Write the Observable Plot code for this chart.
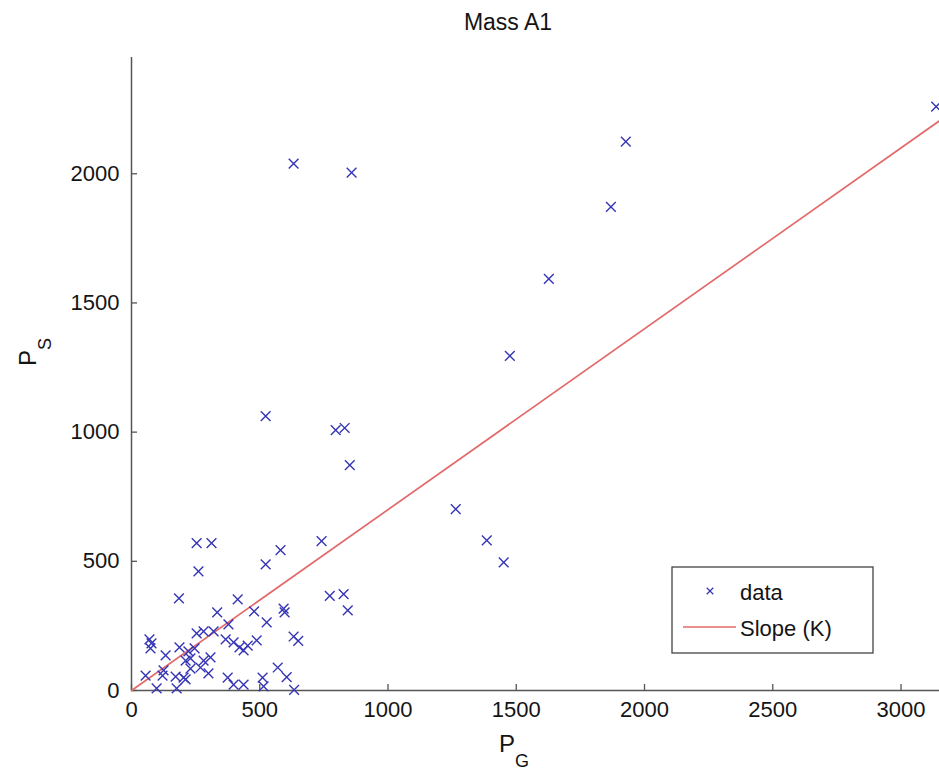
<!DOCTYPE html>
<html>
<head>
<meta charset="utf-8">
<script src="https://cdn.jsdelivr.net/npm/d3@7"></script>
<script src="https://cdn.jsdelivr.net/npm/@observablehq/plot@0.6"></script>
<style>
  html, body { margin: 0; padding: 0; background: white; }
  #chart { width: 939px; height: 777px; }
</style>
</head>
<body>
<div id="chart"></div>
<script>
// ---- data ----
const title = "Mass A1";
const pg = [3137, 1927, 1869, 1627, 1475, 1264, 1385, 1451, 632, 858, 523, 796, 831, 851, 741, 773, 827, 843, 581, 523,
  254, 312, 261, 185, 414, 334, 478, 593, 597, 527, 378, 70, 78, 74, 254, 281, 320, 367, 398, 421,
  453, 488, 437, 187, 133, 222, 246, 211, 230, 281, 308, 269, 230, 300, 125, 121, 55, 172, 203, 211,
  632, 650, 570, 605, 375, 398, 437, 511, 515, 98, 176, 634];
const ps = [2260, 2124, 1872, 1593, 1295, 702, 581, 496, 2039, 2004, 1062, 1008, 1016, 872, 578, 366, 373, 310, 543, 488,
  570, 570, 461, 357, 353, 302, 306, 317, 302, 264, 256, 198, 182, 163, 221, 229, 229, 198, 186, 167,
  174, 194, 155, 167, 136, 151, 163, 116, 124, 116, 128, 89, 85, 66, 78, 58, 58, 54, 50, 43,
  209, 192, 89, 52, 50, 23, 23, 50, 16, 8, 8, 2];
const slopeK = 0.70;
const slopeX = [0, 3150];
const xTicks = [0, 500, 1000, 1500, 2000, 2500, 3000];
const yTicks = [0, 500, 1000, 1500, 2000];
const xDomain = [0, 3150];
const yDomain = [0, 2450];
const legendLabels = ["data", "Slope (K)"];

const points = pg.map((x, i) => ({x, y: ps[i]}));
const slopeLine = slopeX.map(x => ({x, y: slopeK * x}));

const blue = "#3535b5";
const red = "#e36a6a";
const axisColor = "#555";
const textColor = "#141414";
const W = 939, H = 777, mT = 57, mL = 131, mB = 87, mR = 0;
const tickLen = 6;

const plot = Plot.plot({
  width: W,
  height: H,
  marginTop: mT,
  marginLeft: mL,
  marginBottom: mB,
  marginRight: mR,
  style: {fontFamily: "'Liberation Sans', Arial, sans-serif", fontSize: "22px", color: textColor, background: "white", overflow: "visible"},
  x: {domain: xDomain, label: null},
  y: {domain: yDomain, label: null},
  marks: [
    Plot.ruleY([0], {stroke: axisColor, strokeWidth: 1.5}),
    Plot.ruleX([0], {stroke: axisColor, strokeWidth: 1.5}),
    Plot.tickX(xTicks, {x: d => d, stroke: axisColor, strokeWidth: 1.3, insetTop: (H - mT - mB) - tickLen}),
    Plot.tickY(yTicks, {y: d => d, stroke: axisColor, strokeWidth: 1.3, insetRight: (W - mL - mR) - tickLen}),
    Plot.axisX(xTicks, {tickSize: 0, tickPadding: 11, tickFormat: d => String(d), fill: textColor, fontSize: 22}),
    Plot.axisY(yTicks, {tickSize: 0, tickPadding: 12, tickFormat: d => String(d), fill: textColor, fontSize: 22}),
    Plot.line(slopeLine, {x: "x", y: "y", stroke: red, strokeWidth: 1.7}),
    Plot.dot(points, {x: "x", y: "y", symbol: "times", r: 4.5, stroke: blue, strokeWidth: 1.4})
  ]
});

document.getElementById("chart").appendChild(plot);

const svg = d3.select(plot);
const font = "'Liberation Sans', Arial, sans-serif";

// title
svg.append("text")
  .attr("x", 508).attr("y", 30)
  .attr("text-anchor", "middle")
  .attr("font-family", font).attr("font-size", 23).attr("fill", textColor)
  .text(title);

// x label P_G
const xl = svg.append("text")
  .attr("x", 514).attr("y", 752)
  .attr("text-anchor", "middle")
  .attr("font-family", font).attr("font-size", 24).attr("fill", textColor);
xl.append("tspan").text("P");
xl.append("tspan").attr("dy", 15).attr("font-size", 18).text("G");

// y label P_S
const yl = svg.append("text")
  .attr("transform", "translate(36,352) rotate(-90)")
  .attr("text-anchor", "middle")
  .attr("font-family", font).attr("font-size", 24).attr("fill", textColor);
yl.append("tspan").text("P");
yl.append("tspan").attr("dy", 15).attr("font-size", 18).text("S");

// legend
const lg = svg.append("g");
lg.append("rect")
  .attr("x", 672).attr("y", 567).attr("width", 201).attr("height", 86)
  .attr("fill", "white").attr("stroke", "#444").attr("stroke-width", 1.3);
const sym = d3.symbol(d3.symbolTimes, 30)();
lg.append("path").attr("d", sym).attr("transform", "translate(710,591)")
  .attr("fill", "none").attr("stroke", blue).attr("stroke-width", 1.2);
lg.append("line").attr("x1", 683).attr("x2", 736).attr("y1", 627).attr("y2", 627)
  .attr("stroke", red).attr("stroke-width", 1.7);
lg.selectAll("text.lab").data(legendLabels).join("text")
  .attr("class", "lab")
  .attr("x", 740).attr("y", (d, i) => 592 + i * 36)
  .attr("dy", "0.35em")
  .attr("text-anchor", "start")
  .attr("font-family", font).attr("font-size", 22).attr("fill", textColor)
  .text(d => d);
</script>
</body>
</html>
